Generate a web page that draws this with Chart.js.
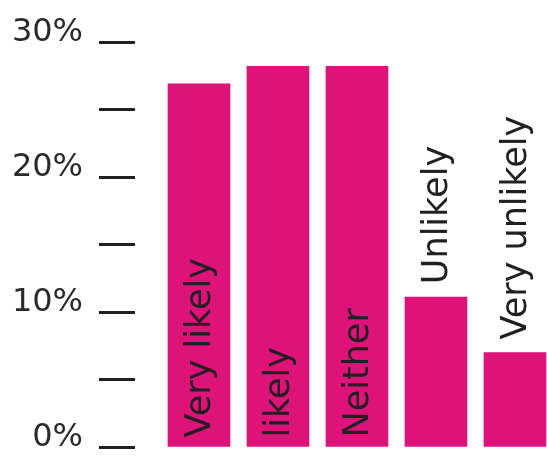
<!DOCTYPE html>
<html lang="en">
<head>
    <meta charset="UTF-8">
    <title>Likelihood</title>
    <script src="https://cdn.jsdelivr.net/npm/chart.js"></script>
    <style>
        html, body { margin: 0; padding: 0; background: #fff; overflow: hidden; }
        #wrap { width: 560px; height: 487px; }
    </style>
</head>
<body>
    <div id="wrap"><canvas id="likelyChart" width="560" height="487"></canvas></div>

    <script>
        const categories = ['Very likely', 'likely', 'Neither', 'Unlikely', 'Very unlikely'];
        const shares = [26.9, 28.2, 28.2, 11.1, 7.0];
        const labelledTicks = [0, 10, 20, 30];

        const barColor = '#de1379';
        const inkColor = '#231f20';

        // category names written along the bars, bottom to top
        const barLabels = {
            id: 'barLabels',
            afterDatasetsDraw(chart) {
                const ctx = chart.ctx;
                const meta = chart.getDatasetMeta(0);
                ctx.save();
                ctx.font = '35px "DejaVu Sans"';
                ctx.fillStyle = inkColor;
                ctx.textAlign = 'left';
                ctx.textBaseline = 'alphabetic';
                meta.data.forEach((bar, i) => {
                    const text = categories[i];
                    const w = ctx.measureText(text).width;
                    const len = bar.base - bar.y;
                    const start = (w + 30 < len) ? bar.base - 9 : bar.y - 13;
                    ctx.save();
                    ctx.translate(bar.x + 11, start);
                    ctx.rotate(-Math.PI / 2);
                    ctx.fillText(text, 0, 0);
                    ctx.restore();
                });
                ctx.restore();
            }
        };

        const ctx = document.getElementById('likelyChart').getContext('2d');
        new Chart(ctx, {
            type: 'bar',
            data: {
                datasets: [{
                    data: categories.map((c, i) => ({ x: i, y: shares[i] })),
                    backgroundColor: barColor,
                    borderWidth: 0,
                    barThickness: 62
                }]
            },
            options: {
                responsive: false,
                animation: false,
                layout: { padding: { top: 42, bottom: 40, left: 0, right: 0 } },
                plugins: { legend: { display: false }, tooltip: { enabled: false } },
                scales: {
                    x: {
                        type: 'linear',
                        display: false,
                        offset: false,
                        min: -0.81,
                        max: 4.57
                    },
                    y: {
                        min: 0,
                        max: 30,
                        afterFit(scale) { scale.width = 135; },
                        border: { display: false },
                        grid: {
                            drawOnChartArea: false,
                            drawTicks: true,
                            tickLength: 36,
                            tickWidth: 3,
                            tickColor: inkColor
                        },
                        ticks: {
                            stepSize: 5,
                            padding: 16,
                            labelOffset: -9,
                            color: '#2a2a2a',
                            font: { family: '"DejaVu Sans"', size: 32 },
                            callback: v => labelledTicks.includes(v) ? v + '%' : ''
                        }
                    }
                }
            },
            plugins: [barLabels]
        });
    </script>
</body>
</html>
